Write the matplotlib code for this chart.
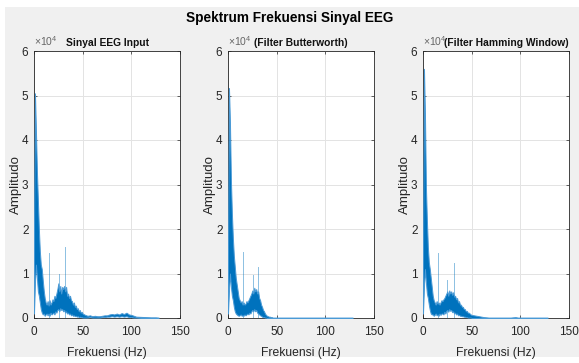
import matplotlib
matplotlib.use('Agg')
import matplotlib.pyplot as plt
from matplotlib.patches import Rectangle

FONT = 'Liberation Sans'
plt.rcParams['font.family'] = [FONT, 'DejaVu Sans']
plt.rcParams['mathtext.fontset'] = 'custom'
plt.rcParams['mathtext.rm'] = FONT

# frequency knots (Hz)
freq = [0, 1, 2, 3, 4, 5, 6, 7, 8, 9, 10, 11, 12, 13, 14, 15, 16, 17, 18, 19,
        20, 21, 22, 23, 24, 25, 26, 27, 28, 29, 30, 31, 32, 33, 34, 35, 36, 37, 38, 39,
        40, 41, 42, 43, 44, 45, 46, 47, 48, 49, 50,
        52.5, 55, 57.5, 60, 62.5, 65, 67.5, 70, 72.5, 75, 77.5, 80, 82.5, 85, 87.5,
        90, 92.5, 95, 97.5, 100, 102.5, 105, 110, 115, 120, 125, 128]

# amplitude envelopes, x 1e4
input_hi = [2.0, 5.05, 4.2, 3.3, 2.65, 2.0, 1.5, 1.2, 1.1, 0.85, 0.62, 0.45, 0.35, 0.3, 0.38, 0.28, 0.4, 0.3, 0.35, 0.42,
            0.38, 0.5, 0.45, 0.55, 0.65, 0.78, 0.6, 0.72, 0.55, 0.7, 0.65, 0.72, 0.6, 0.7, 0.5, 0.55, 0.45, 0.5, 0.4, 0.38,
            0.3, 0.35, 0.25, 0.28, 0.2, 0.22, 0.15, 0.18, 0.12, 0.14, 0.1,
            0.07, 0.05, 0.06, 0.04, 0.05, 0.04, 0.04, 0.05, 0.06, 0.06, 0.08, 0.09, 0.08, 0.1, 0.08,
            0.11, 0.09, 0.12, 0.08, 0.07, 0.05, 0.03, 0.025, 0.02, 0.015, 0.015, 0.01]
input_lo = [0.1, 0.8, 1.2, 0.9, 0.6, 0.5, 0.35, 0.2, 0.12, 0.08, 0.1, 0.05, 0.08, 0.1, 0.06, 0.1, 0.05, 0.12, 0.08, 0.1,
            0.12, 0.08, 0.15, 0.12, 0.18, 0.2, 0.15, 0.22, 0.18, 0.2, 0.15, 0.18, 0.12, 0.15, 0.1, 0.12, 0.08, 0.1, 0.06, 0.08,
            0.05, 0.06, 0.04, 0.05, 0.03, 0.04, 0.02, 0.03, 0.02, 0.02, 0.01,
            0.01, 0.01, 0.02, 0.01, 0.01, 0.01, 0.01, 0.02, 0.02, 0.03, 0.03, 0.04, 0.03, 0.04, 0.03,
            0.04, 0.03, 0.04, 0.02, 0.02, 0.01, 0.01, 0.0, 0.0, 0.0, 0.0, 0.0]

butter_hi = [1.5, 5.17, 4.4, 3.1, 2.35, 1.8, 1.4, 1.15, 0.9, 0.75, 0.6, 0.45, 0.4, 0.35, 0.38, 0.3, 0.35, 0.3, 0.32, 0.38,
             0.35, 0.4, 0.45, 0.5, 0.55, 0.62, 0.55, 0.68, 0.6, 0.65, 0.55, 0.6, 0.45, 0.4, 0.3, 0.25, 0.18, 0.15, 0.1, 0.07,
             0.05, 0.04, 0.03, 0.03, 0.02, 0.02, 0.01, 0.01, 0.01, 0.01, 0.01,
             0.01, 0.01, 0.01, 0.01, 0.01, 0.01, 0.01, 0.01, 0.01, 0.01, 0.01, 0.01, 0.01, 0.01, 0.01,
             0.01, 0.01, 0.01, 0.01, 0.01, 0.01, 0.01, 0.01, 0.01, 0.01, 0.01, 0.01]
butter_lo = [0.1, 0.6, 1.0, 0.7, 0.5, 0.4, 0.25, 0.15, 0.1, 0.08, 0.06, 0.05, 0.06, 0.08, 0.05, 0.06, 0.05, 0.08, 0.06, 0.08,
             0.1, 0.08, 0.12, 0.1, 0.15, 0.18, 0.15, 0.2, 0.15, 0.18, 0.12, 0.1, 0.08, 0.06, 0.05, 0.03, 0.02, 0.02, 0.01, 0.01,
             0, 0, 0, 0, 0, 0, 0, 0, 0, 0, 0,
             0, 0, 0, 0, 0, 0, 0, 0, 0, 0, 0, 0, 0, 0, 0,
             0, 0, 0, 0, 0, 0, 0, 0, 0, 0, 0, 0]

hamming_hi = [1.5, 5.6, 4.6, 2.95, 2.2, 1.6, 1.25, 1.1, 0.9, 0.7, 0.5, 0.4, 0.35, 0.3, 0.38, 0.32, 0.35, 0.3, 0.35, 0.4,
              0.38, 0.42, 0.45, 0.5, 0.55, 0.6, 0.5, 0.62, 0.55, 0.6, 0.52, 0.58, 0.48, 0.5, 0.42, 0.45, 0.35, 0.38, 0.3, 0.3,
              0.25, 0.25, 0.2, 0.2, 0.15, 0.16, 0.12, 0.12, 0.1, 0.08, 0.07,
              0.06, 0.05, 0.04, 0.03, 0.02, 0.015, 0.01, 0.01, 0.01, 0.01, 0.01, 0.01, 0.01, 0.01, 0.01,
              0.01, 0.015, 0.02, 0.01, 0.01, 0.01, 0.01, 0.01, 0.01, 0.01, 0.01, 0.01]
hamming_lo = [0.1, 0.7, 1.1, 0.8, 0.55, 0.45, 0.3, 0.18, 0.1, 0.08, 0.08, 0.05, 0.07, 0.1, 0.06, 0.08, 0.05, 0.1, 0.07, 0.1,
              0.1, 0.08, 0.14, 0.1, 0.16, 0.18, 0.14, 0.2, 0.16, 0.18, 0.13, 0.15, 0.1, 0.12, 0.08, 0.1, 0.06, 0.07, 0.05, 0.05,
              0.04, 0.04, 0.03, 0.03, 0.02, 0.02, 0.01, 0.01, 0.01, 0.01, 0.0,
              0, 0, 0, 0, 0, 0, 0, 0, 0, 0, 0, 0, 0, 0, 0,
              0, 0, 0, 0, 0, 0, 0, 0, 0, 0, 0, 0]

# isolated spikes (Hz, amplitude x 1e4)
input_spikes = [(15.5, 1.45), (25.5, 1.0), (32, 1.6)]
butter_spikes = [(15.4, 1.48), (25.5, 0.97), (30.5, 1.15)]
hamming_spikes = [(15.4, 1.46), (24.6, 0.85), (31.7, 1.23)]

titles = ['Sinyal EEG Input', '(Filter Butterworth)', '(Filter Hamming Window)']
series = [(input_hi, input_lo, input_spikes),
          (butter_hi, butter_lo, butter_spikes),
          (hamming_hi, hamming_lo, hamming_spikes)]

BLUE = '#0072BD'
TXT = '#262626'

W, H = 579, 363
fig = plt.figure(figsize=(W / 100, H / 100), dpi=100)
fig.patch.set_facecolor('white')
fig.patches.append(Rectangle((5 / W, 6 / H), 1 - 5 / W, 350 / H, transform=fig.transFigure,
                             facecolor='#F0F0F0', edgecolor='none', zorder=-10))

lefts = [34, 228, 423]
title_shift = [0, 0, 10]
for i, (hi, lo, spikes) in enumerate(series):
    ax = fig.add_axes([lefts[i] / W, 45 / H, 146 / W, 267 / H])
    ax.fill_between(freq, lo, hi, color=BLUE, lw=0.7, edgecolor='#4A9AD6', zorder=3)
    for f, a in spikes:
        ax.plot([f, f], [0, a], color=BLUE, lw=0.7, alpha=0.45, zorder=2)
    ax.set_xlim(0, 150)
    ax.set_ylim(0, 6)
    ax.set_xticks([0, 50, 100, 150])
    ax.set_yticks([0, 1, 2, 3, 4, 5, 6])
    ax.grid(True, color='#E3E3E3', lw=0.7)
    ax.set_axisbelow(True)
    ax.tick_params(direction='in', length=2.5, width=0.5, colors=TXT, labelsize=8.5,
                   top=True, right=True)
    ax.tick_params(axis='x', pad=6)
    ax.tick_params(axis='y', pad=4)
    for s in ax.spines.values():
        s.set_color(TXT)
        s.set_linewidth(0.6)
    ax.set_xlabel('Frekuensi (Hz)', fontsize=8.7, color=TXT, labelpad=6)
    ax.set_ylabel('Amplitudo', fontsize=9.5, color=TXT, labelpad=0)
    ax.text(0.5 + title_shift[i] / 146, 1.012, titles[i], transform=ax.transAxes,
            ha='center', va='bottom', fontsize=7.4, fontweight='bold', color='#111111')
    ax.text(0.0, 1.012, r'$\times10^{4}$', transform=ax.transAxes, ha='left', va='bottom',
            fontsize=7.5, color='#666666')

fig.text(0.5, 1 - 18 / H, 'Spektrum Frekuensi Sinyal EEG', ha='center', va='center',
         fontsize=9.8, fontweight='bold', color='black')

fig.savefig('out.png', dpi=100, facecolor=fig.get_facecolor())
